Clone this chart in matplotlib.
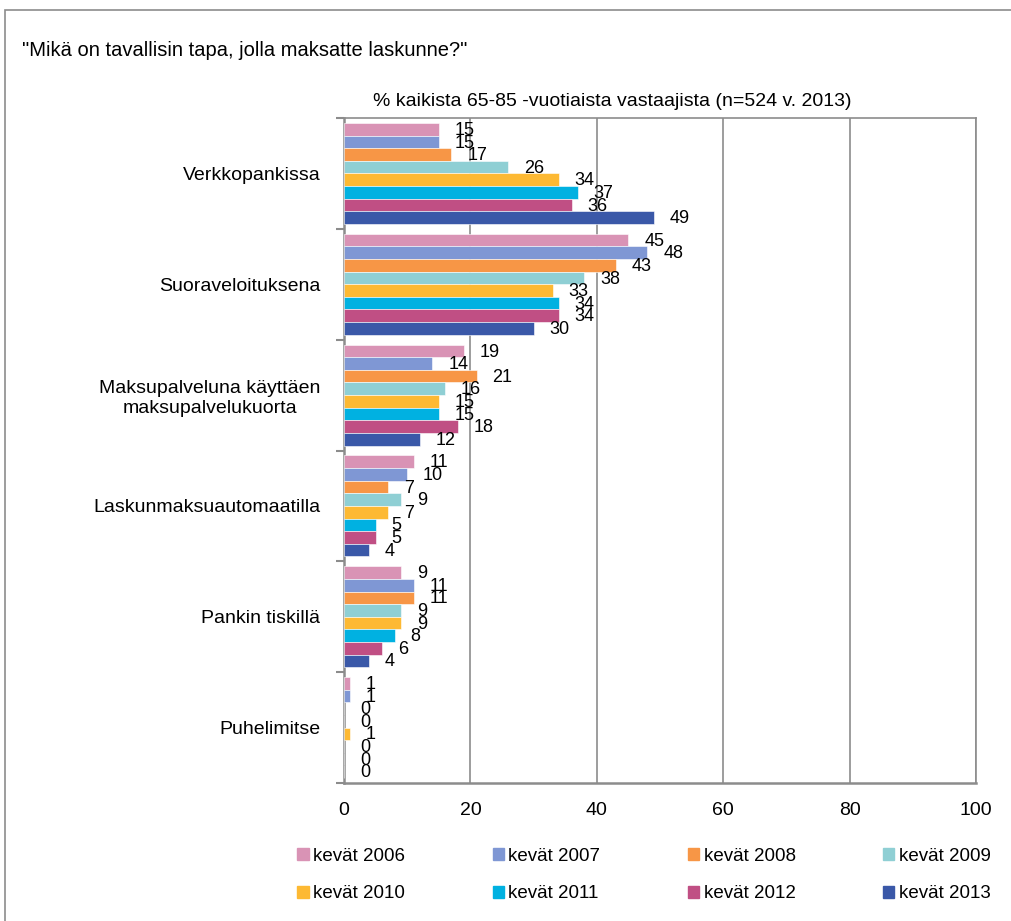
import matplotlib.pyplot as plt
import numpy as np
from matplotlib.patches import Rectangle, Patch

plt.rcParams['font.family'] = ['Liberation Sans', 'DejaVu Sans']

categories = ['Verkkopankissa', 'Suoraveloituksena',
              'Maksupalveluna käyttäen\nmaksupalvelukuorta',
              'Laskunmaksuautomaatilla', 'Pankin tiskillä', 'Puhelimitse']
years = ['kevät 2006', 'kevät 2007', 'kevät 2008', 'kevät 2009',
         'kevät 2010', 'kevät 2011', 'kevät 2012', 'kevät 2013']
v2006 = [15, 45, 19, 11, 9, 1]
v2007 = [15, 48, 14, 10, 11, 1]
v2008 = [17, 43, 21, 7, 11, 0]
v2009 = [26, 38, 16, 9, 9, 0]
v2010 = [34, 33, 15, 7, 9, 1]
v2011 = [37, 34, 15, 5, 8, 0]
v2012 = [36, 34, 18, 5, 6, 0]
v2013 = [49, 30, 12, 4, 4, 0]
series = [v2006, v2007, v2008, v2009, v2010, v2011, v2012, v2013]
colors = ['#D993B5', '#7F97D4', '#F79646', '#8FCFD4',
          '#FDB933', '#00B1E1', '#C04F84', '#3A58A8']

fig = plt.figure(figsize=(10.12, 9.21), dpi=100)
fig.patches.append(Rectangle((5 / 1012, -0.1), 1.2, 1 - 10 / 921 + 0.1,
                             transform=fig.transFigure, fill=False,
                             edgecolor='#8c8c8c', lw=1.2))
ax = fig.add_axes([344 / 1012, 1 - 783 / 921, 632 / 1012, 665 / 921])

n = len(series)
bh = 0.91 / n
y = np.arange(len(categories))
for i, vals in enumerate(series):
    pos = y - 0.455 + bh * (i + 0.5)
    ax.barh(pos, vals, height=bh, color=colors[i], edgecolor='white', lw=0.4, zorder=3)
    for p, v in zip(pos, vals):
        ax.text(v + 2.5, p + 0.01, str(v), va='center', ha='left', fontsize=13, zorder=4)

ax.set_xlim(0, 100)
ax.set_ylim(len(categories) - 0.5, -0.5)
ax.set_xticks([0, 20, 40, 60, 80, 100])
ax.tick_params(axis='x', length=0, labelsize=14, pad=14)
ax.set_yticks(np.arange(len(categories) + 1) - 0.5, minor=True)
ax.set_yticks(y)
ax.set_yticklabels(categories, fontsize=14, ha='right', multialignment='center')
ax.tick_params(axis='y', which='major', length=0, pad=17)
ax.tick_params(axis='y', which='minor', length=6, color='#8c8c8c', width=1.5)
ax.grid(axis='x', color='#8c8c8c', lw=1.2, zorder=0)
for s in ax.spines.values():
    s.set_color('#8c8c8c')
    s.set_linewidth(1.2)
ax.spines['left'].set_linewidth(1.8)
ax.spines['bottom'].set_linewidth(1.8)

fig.text(22 / 1012, 1 - 50 / 921, '"Mikä on tavallisin tapa, jolla maksatte laskunne?"',
         fontsize=14.5, va='center', ha='left')
fig.text(612 / 1012, 1 - 101 / 921, '% kaikista 65-85 -vuotiaista vastaajista (n=524 v. 2013)',
         fontsize=14, va='center', ha='center')

handles = [Patch(color=c, label=l) for c, l in zip(colors, years)]
order = [0, 4, 1, 5, 2, 6, 3, 7]
fig.legend([handles[k] for k in order], [years[k] for k in order], ncol=4,
           loc='center', bbox_to_anchor=(644 / 1012, 1 - 875 / 921), frameon=False,
           fontsize=13.5, handlelength=0.6, handleheight=0.6, handletextpad=0.25,
           columnspacing=4.65, labelspacing=1.1)

fig.savefig('out.png', dpi=100)
